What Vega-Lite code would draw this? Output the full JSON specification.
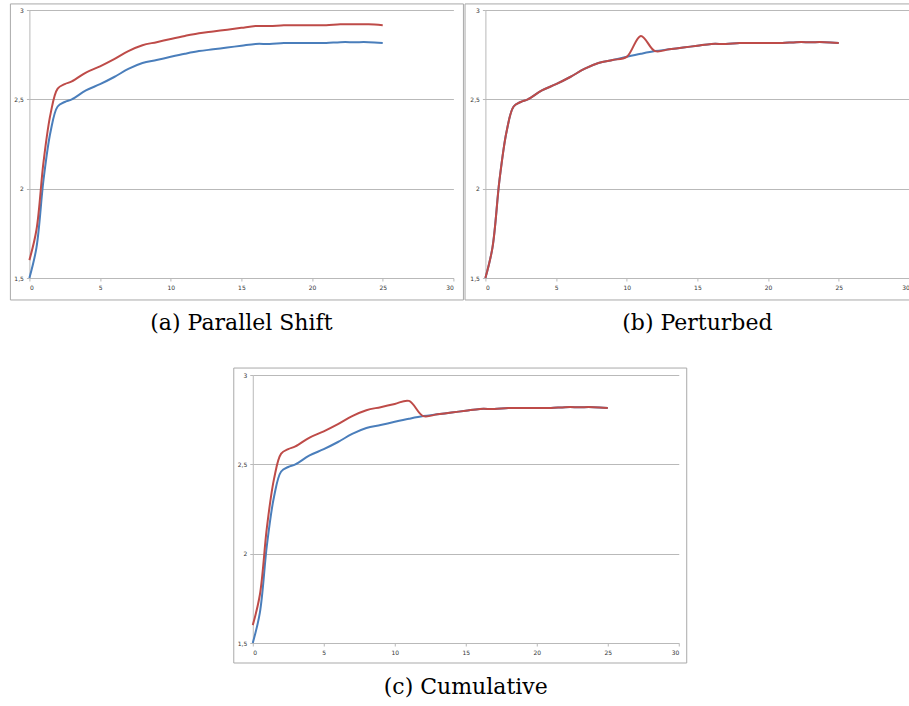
{
  "$schema": "https://vega.github.io/schema/vega-lite/v6.json",
  "padding": {"left": 9, "top": 3, "right": 0, "bottom": 0},
  "autosize": {"type": "pad"},
  "background": "white",
  "config": {
    "view": {"stroke": null},
    "axis": {
      "domainColor": "#b9b9b9",
      "tickColor": "#b9b9b9",
      "gridColor": "#b9b9b9",
      "labelFont": "DejaVu Sans",
      "labelFontSize": 6,
      "labelColor": "#333333",
      "title": null
    },
    "title": {"font": "DejaVu Serif", "fontSize": 22, "fontWeight": "normal", "color": "#000000", "orient": "bottom", "anchor": "middle", "offset": 13}
  },
  "datasets": {
    "curves": [
      {"panel": "all", "series": "base", "x": 0, "y": 1.5},
      {"panel": "all", "series": "base", "x": 0.5, "y": 1.67},
      {"panel": "all", "series": "base", "x": 1, "y": 2.05},
      {"panel": "all", "series": "base", "x": 1.5, "y": 2.32},
      {"panel": "all", "series": "base", "x": 2, "y": 2.46},
      {"panel": "all", "series": "base", "x": 2.5, "y": 2.485},
      {"panel": "all", "series": "base", "x": 3, "y": 2.5},
      {"panel": "all", "series": "base", "x": 4, "y": 2.55},
      {"panel": "all", "series": "base", "x": 5, "y": 2.585},
      {"panel": "all", "series": "base", "x": 6, "y": 2.625},
      {"panel": "all", "series": "base", "x": 7, "y": 2.67},
      {"panel": "all", "series": "base", "x": 8, "y": 2.703},
      {"panel": "all", "series": "base", "x": 9, "y": 2.72},
      {"panel": "all", "series": "base", "x": 10, "y": 2.738},
      {"panel": "all", "series": "base", "x": 11, "y": 2.755},
      {"panel": "all", "series": "base", "x": 12, "y": 2.77},
      {"panel": "all", "series": "base", "x": 13, "y": 2.78},
      {"panel": "all", "series": "base", "x": 14, "y": 2.79},
      {"panel": "all", "series": "base", "x": 15, "y": 2.8},
      {"panel": "all", "series": "base", "x": 16, "y": 2.81},
      {"panel": "all", "series": "base", "x": 17, "y": 2.81},
      {"panel": "all", "series": "base", "x": 18, "y": 2.815},
      {"panel": "all", "series": "base", "x": 19, "y": 2.815},
      {"panel": "all", "series": "base", "x": 20, "y": 2.815},
      {"panel": "all", "series": "base", "x": 21, "y": 2.815},
      {"panel": "all", "series": "base", "x": 22, "y": 2.82},
      {"panel": "all", "series": "base", "x": 23, "y": 2.82},
      {"panel": "all", "series": "base", "x": 24, "y": 2.82},
      {"panel": "all", "series": "base", "x": 25, "y": 2.815},

      {"panel": "a", "series": "shock", "x": 0, "y": 1.6},
      {"panel": "a", "series": "shock", "x": 0.5, "y": 1.77},
      {"panel": "a", "series": "shock", "x": 1, "y": 2.15},
      {"panel": "a", "series": "shock", "x": 1.5, "y": 2.42},
      {"panel": "a", "series": "shock", "x": 2, "y": 2.56},
      {"panel": "a", "series": "shock", "x": 2.5, "y": 2.585},
      {"panel": "a", "series": "shock", "x": 3, "y": 2.6},
      {"panel": "a", "series": "shock", "x": 4, "y": 2.65},
      {"panel": "a", "series": "shock", "x": 5, "y": 2.685},
      {"panel": "a", "series": "shock", "x": 6, "y": 2.725},
      {"panel": "a", "series": "shock", "x": 7, "y": 2.77},
      {"panel": "a", "series": "shock", "x": 8, "y": 2.803},
      {"panel": "a", "series": "shock", "x": 9, "y": 2.82},
      {"panel": "a", "series": "shock", "x": 10, "y": 2.838},
      {"panel": "a", "series": "shock", "x": 11, "y": 2.855},
      {"panel": "a", "series": "shock", "x": 12, "y": 2.87},
      {"panel": "a", "series": "shock", "x": 13, "y": 2.88},
      {"panel": "a", "series": "shock", "x": 14, "y": 2.89},
      {"panel": "a", "series": "shock", "x": 15, "y": 2.9},
      {"panel": "a", "series": "shock", "x": 16, "y": 2.91},
      {"panel": "a", "series": "shock", "x": 17, "y": 2.91},
      {"panel": "a", "series": "shock", "x": 18, "y": 2.915},
      {"panel": "a", "series": "shock", "x": 19, "y": 2.915},
      {"panel": "a", "series": "shock", "x": 20, "y": 2.915},
      {"panel": "a", "series": "shock", "x": 21, "y": 2.915},
      {"panel": "a", "series": "shock", "x": 22, "y": 2.92},
      {"panel": "a", "series": "shock", "x": 23, "y": 2.92},
      {"panel": "a", "series": "shock", "x": 24, "y": 2.92},
      {"panel": "a", "series": "shock", "x": 25, "y": 2.915},

      {"panel": "b", "series": "shock", "x": 0, "y": 1.5},
      {"panel": "b", "series": "shock", "x": 0.5, "y": 1.67},
      {"panel": "b", "series": "shock", "x": 1, "y": 2.05},
      {"panel": "b", "series": "shock", "x": 1.5, "y": 2.32},
      {"panel": "b", "series": "shock", "x": 2, "y": 2.46},
      {"panel": "b", "series": "shock", "x": 2.5, "y": 2.485},
      {"panel": "b", "series": "shock", "x": 3, "y": 2.5},
      {"panel": "b", "series": "shock", "x": 4, "y": 2.55},
      {"panel": "b", "series": "shock", "x": 5, "y": 2.585},
      {"panel": "b", "series": "shock", "x": 6, "y": 2.625},
      {"panel": "b", "series": "shock", "x": 7, "y": 2.67},
      {"panel": "b", "series": "shock", "x": 8, "y": 2.703},
      {"panel": "b", "series": "shock", "x": 9, "y": 2.72},
      {"panel": "b", "series": "shock", "x": 10, "y": 2.738},
      {"panel": "b", "series": "shock", "x": 11, "y": 2.855},
      {"panel": "b", "series": "shock", "x": 12, "y": 2.77},
      {"panel": "b", "series": "shock", "x": 13, "y": 2.78},
      {"panel": "b", "series": "shock", "x": 14, "y": 2.79},
      {"panel": "b", "series": "shock", "x": 15, "y": 2.8},
      {"panel": "b", "series": "shock", "x": 16, "y": 2.81},
      {"panel": "b", "series": "shock", "x": 17, "y": 2.81},
      {"panel": "b", "series": "shock", "x": 18, "y": 2.815},
      {"panel": "b", "series": "shock", "x": 19, "y": 2.815},
      {"panel": "b", "series": "shock", "x": 20, "y": 2.815},
      {"panel": "b", "series": "shock", "x": 21, "y": 2.815},
      {"panel": "b", "series": "shock", "x": 22, "y": 2.82},
      {"panel": "b", "series": "shock", "x": 23, "y": 2.82},
      {"panel": "b", "series": "shock", "x": 24, "y": 2.82},
      {"panel": "b", "series": "shock", "x": 25, "y": 2.815},

      {"panel": "c", "series": "shock", "x": 0, "y": 1.6},
      {"panel": "c", "series": "shock", "x": 0.5, "y": 1.77},
      {"panel": "c", "series": "shock", "x": 1, "y": 2.15},
      {"panel": "c", "series": "shock", "x": 1.5, "y": 2.42},
      {"panel": "c", "series": "shock", "x": 2, "y": 2.56},
      {"panel": "c", "series": "shock", "x": 2.5, "y": 2.585},
      {"panel": "c", "series": "shock", "x": 3, "y": 2.6},
      {"panel": "c", "series": "shock", "x": 4, "y": 2.65},
      {"panel": "c", "series": "shock", "x": 5, "y": 2.685},
      {"panel": "c", "series": "shock", "x": 6, "y": 2.725},
      {"panel": "c", "series": "shock", "x": 7, "y": 2.77},
      {"panel": "c", "series": "shock", "x": 8, "y": 2.803},
      {"panel": "c", "series": "shock", "x": 9, "y": 2.82},
      {"panel": "c", "series": "shock", "x": 10, "y": 2.838},
      {"panel": "c", "series": "shock", "x": 11, "y": 2.855},
      {"panel": "c", "series": "shock", "x": 12, "y": 2.77},
      {"panel": "c", "series": "shock", "x": 13, "y": 2.78},
      {"panel": "c", "series": "shock", "x": 14, "y": 2.79},
      {"panel": "c", "series": "shock", "x": 15, "y": 2.8},
      {"panel": "c", "series": "shock", "x": 16, "y": 2.81},
      {"panel": "c", "series": "shock", "x": 17, "y": 2.81},
      {"panel": "c", "series": "shock", "x": 18, "y": 2.815},
      {"panel": "c", "series": "shock", "x": 19, "y": 2.815},
      {"panel": "c", "series": "shock", "x": 20, "y": 2.815},
      {"panel": "c", "series": "shock", "x": 21, "y": 2.815},
      {"panel": "c", "series": "shock", "x": 22, "y": 2.82},
      {"panel": "c", "series": "shock", "x": 23, "y": 2.82},
      {"panel": "c", "series": "shock", "x": 24, "y": 2.82},
      {"panel": "c", "series": "shock", "x": 25, "y": 2.815}
    ]
  },
  "spacing": 32,
  "center": true,
  "vconcat": [
    {
      "spacing": 0,
      "hconcat": [
        {
          "width": 424, "height": 268,
          "title": {"text": "(a) Parallel Shift"},
          "encoding": {
            "x": {"field": "x", "type": "quantitative", "scale": {"domain": [0, 30], "nice": false, "zero": false}, "axis": {"values": [0, 5, 10, 15, 20, 25, 30], "grid": false, "tickSize": 3, "labelPadding": 3}},
            "y": {"field": "y", "type": "quantitative", "scale": {"domain": [1.5, 3], "nice": false, "zero": false}, "axis": {"values": [1.5, 2, 2.5, 3], "grid": true, "tickSize": 3, "labelPadding": 3, "labelExpr": "replace(format(datum.value, '~g'), '.', ',')"}}
          },
          "layer": [
            {"data": {"values": [{"x": -1.344, "y": 1.377, "xe": 30.71, "ye": 3.034}]}, "mark": {"type": "rect", "fill": null, "stroke": "#a9a9a9", "strokeWidth": 1}, "encoding": {"x2": {"field": "xe"}, "y2": {"field": "ye"}}},
            {"data": {"name": "curves"}, "transform": [{"filter": "datum.series == 'base'"}], "mark": {"type": "line", "interpolate": "catmull-rom", "strokeWidth": 2, "color": "#4a7ebb"}},
            {"data": {"name": "curves"}, "transform": [{"filter": "datum.panel == 'a'"}], "mark": {"type": "line", "interpolate": "catmull-rom", "strokeWidth": 2, "color": "#be4b48"}}
          ]
        },
        {
          "width": 424, "height": 268,
          "title": {"text": "(b) Perturbed"},
          "encoding": {
            "x": {"field": "x", "type": "quantitative", "scale": {"domain": [0, 30], "nice": false, "zero": false}, "axis": {"values": [0, 5, 10, 15, 20, 25, 30], "grid": false, "tickSize": 3, "labelPadding": 3}},
            "y": {"field": "y", "type": "quantitative", "scale": {"domain": [1.5, 3], "nice": false, "zero": false}, "axis": {"values": [1.5, 2, 2.5, 3], "grid": true, "tickSize": 3, "labelPadding": 3, "labelExpr": "replace(format(datum.value, '~g'), '.', ',')"}}
          },
          "layer": [
            {"data": {"values": [
              {"x": -1.44, "y": 1.377, "xe": 30.05, "ye": 1.377},
              {"x": -1.44, "y": 3.034, "xe": 30.05, "ye": 3.034},
              {"x": -1.44, "y": 1.377, "xe": -1.44, "ye": 3.034}
            ]}, "mark": {"type": "rule", "stroke": "#a9a9a9", "strokeWidth": 1}, "encoding": {"x2": {"field": "xe"}, "y2": {"field": "ye"}}},
            {"data": {"name": "curves"}, "transform": [{"filter": "datum.series == 'base'"}], "mark": {"type": "line", "interpolate": "catmull-rom", "strokeWidth": 2, "color": "#4a7ebb"}},
            {"data": {"name": "curves"}, "transform": [{"filter": "datum.panel == 'b'"}], "mark": {"type": "line", "interpolate": "catmull-rom", "strokeWidth": 2, "color": "#be4b48"}}
          ]
        }
      ]
    },
    {
      "width": 426, "height": 268,
      "title": {"text": "(c) Cumulative"},
      "encoding": {
        "x": {"field": "x", "type": "quantitative", "scale": {"domain": [0, 30], "nice": false, "zero": false}, "axis": {"values": [0, 5, 10, 15, 20, 25, 30], "grid": false, "tickSize": 3, "labelPadding": 3}},
        "y": {"field": "y", "type": "quantitative", "scale": {"domain": [1.5, 3], "nice": false, "zero": false}, "axis": {"values": [1.5, 2, 2.5, 3], "grid": true, "tickSize": 3, "labelPadding": 3, "labelExpr": "replace(format(datum.value, '~g'), '.', ',')"}}
      },
      "layer": [
        {"data": {"values": [{"x": -1.338, "y": 1.388, "xe": 30.56, "ye": 3.039}]}, "mark": {"type": "rect", "fill": null, "stroke": "#a9a9a9", "strokeWidth": 1}, "encoding": {"x2": {"field": "xe"}, "y2": {"field": "ye"}}},
        {"data": {"name": "curves"}, "transform": [{"filter": "datum.series == 'base'"}], "mark": {"type": "line", "interpolate": "catmull-rom", "strokeWidth": 2, "color": "#4a7ebb"}},
        {"data": {"name": "curves"}, "transform": [{"filter": "datum.panel == 'c'"}], "mark": {"type": "line", "interpolate": "catmull-rom", "strokeWidth": 2, "color": "#be4b48"}}
      ]
    }
  ]
}
